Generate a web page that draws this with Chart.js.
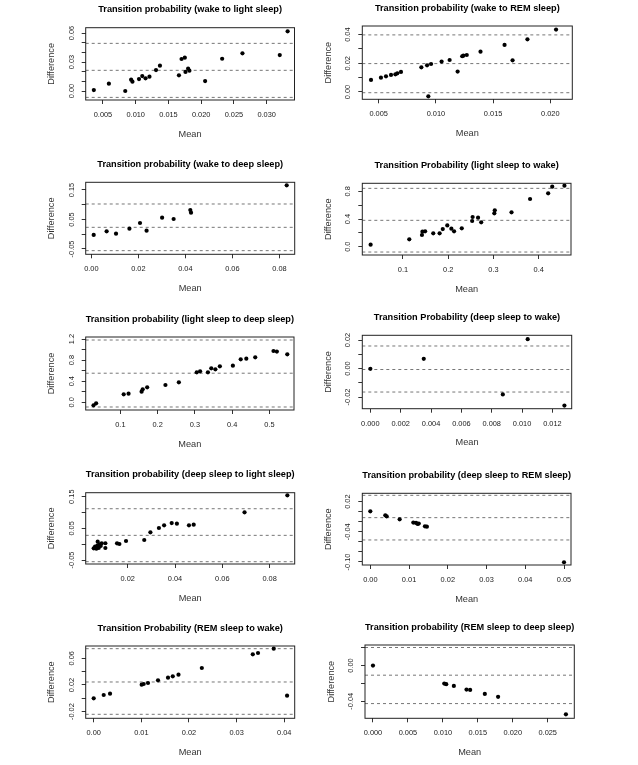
<!DOCTYPE html>
<html><head><meta charset="utf-8">
<script src="https://cdn.jsdelivr.net/npm/chart.js@4.4.1/dist/chart.umd.min.js"></script>
<style>
html,body{margin:0;padding:0;background:#fff;}
#fig{position:relative;width:638px;height:765px;overflow:hidden;background:#fff;}
#fig canvas{position:absolute;}
</style></head><body><div id="fig"></div>
<script>
// ---------- DATA ----------
// 1. wake -> light sleep
const wakeLightMean = [0.0036,0.0059,0.0084,0.0093,0.0095,0.0105,0.0110,0.0115,0.0121,0.0131,0.0137,0.0166,0.0170,0.0175,0.0176,0.0180,0.0182,0.0206,0.0232,0.0263,0.0320,0.0332];
const wakeLightDiff = [0.0010,0.0076,0.0000,0.0117,0.0097,0.0124,0.0155,0.0131,0.0148,0.0217,0.0262,0.0162,0.0331,0.0345,0.0197,0.0231,0.0210,0.0103,0.0334,0.0390,0.0372,0.0617];
const wakeLightLimits = [0.0493,0.0214,-0.0066];
const wakeLightXTicks = ['0.005','0.010','0.015','0.020','0.025','0.030'];
const wakeLightYTicks = [0,0.01,0.02,0.03,0.04,0.05,0.06];
const wakeLightYLabels = ['0.00','','','0.03','','','0.06'];

// 2. wake -> REM sleep
const wakeRemMean = [0.00433,0.0052,0.00564,0.00608,0.00646,0.00663,0.00695,0.00873,0.00923,0.00958,0.00934,0.0105,0.0112,0.0119,0.0123,0.0124,0.0127,0.0139,0.0160,0.0167,0.0180,0.0205];
const wakeRemDiff = [0.0084,0.0100,0.0109,0.0119,0.0123,0.0130,0.0140,0.0172,0.0186,0.0195,-0.0030,0.0212,0.0223,0.0142,0.0249,0.0253,0.0258,0.0281,0.0328,0.0221,0.0367,0.0435];
const wakeRemLimits = [0.0398,0.0198,-0.0005];
const wakeRemXTicks = ['0.005','0.010','0.015','0.020'];
const wakeRemYTicks = [0,0.01,0.02,0.03,0.04];
const wakeRemYLabels = ['0.00','','0.02','','0.04'];

// 3. wake -> deep sleep
const wakeDeepMean = [0.0010,0.0065,0.0105,0.0162,0.0207,0.0235,0.0301,0.0350,0.0421,0.0424,0.0831];
const wakeDeepDiff = [-0.0025,0.0099,0.0020,0.0189,0.0381,0.0121,0.0562,0.0517,0.0822,0.0732,0.1658];
const wakeDeepLimits = [0.1025,0.0234,-0.0556];
const wakeDeepXTicks = ['0.00','0.02','0.04','0.06','0.08'];
const wakeDeepYTicks = [-0.05,0,0.05,0.10,0.15];
const wakeDeepYLabels = ['-0.05','','0.05','','0.15'];

// 4. light sleep -> wake
const lightWakeMean = [0.0285,0.114,0.142,0.143,0.149,0.167,0.181,0.188,0.198,0.207,0.213,0.230,0.253,0.254,0.266,0.273,0.302,0.303,0.340,0.381,0.421,0.430,0.457];
const lightWakeDiff = [0.029,0.106,0.169,0.217,0.222,0.193,0.193,0.255,0.308,0.260,0.222,0.265,0.371,0.429,0.419,0.352,0.482,0.525,0.496,0.689,0.771,0.867,0.882];
const lightWakeLimits = [0.843,0.381,-0.077];
const lightWakeXTicks = ['0.1','0.2','0.3','0.4'];
const lightWakeYTicks = [0,0.2,0.4,0.6,0.8];
const lightWakeYLabels = ['0.0','','0.4','','0.8'];

// 5. light sleep -> deep sleep
const lightDeepMean = [0.028,0.035,0.109,0.122,0.157,0.160,0.172,0.221,0.257,0.305,0.314,0.335,0.344,0.355,0.367,0.402,0.423,0.438,0.462,0.511,0.520,0.548];
const lightDeepDiff = [-0.057,-0.019,0.152,0.164,0.202,0.246,0.284,0.329,0.379,0.569,0.588,0.569,0.645,0.626,0.682,0.695,0.815,0.828,0.853,0.973,0.961,0.910];
const lightDeepLimits = [1.181,0.552,-0.088];
const lightDeepXTicks = ['0.1','0.2','0.3','0.4','0.5'];
const lightDeepYTicks = [0,0.2,0.4,0.6,0.8,1.0,1.2];
const lightDeepYLabels = ['0.0','','0.4','','0.8','','1.2'];

// 6. deep sleep -> wake
const deepWakeMean = [0.0,0.00352,0.00873,0.01037,0.01279];
const deepWakeDiff = [-0.0002,0.0068,-0.0182,0.0206,-0.0260];
const deepWakeLimits = [0.0158,-0.0007,-0.0165];
const deepWakeXTicks = ['0.000','0.002','0.004','0.006','0.008','0.010','0.012'];
const deepWakeYTicks = [-0.02,-0.01,0,0.01,0.02];
const deepWakeYLabels = ['-0.02','','0.00','','0.02'];

// 7. deep sleep -> light sleep
const deepLightMean = [0.00563,0.0062,0.00676,0.00718,0.00732,0.00775,0.00803,0.00859,0.00901,0.01056,0.01056,0.0155,0.0165,0.0193,0.0270,0.0296,0.0332,0.0354,0.0386,0.0408,0.0459,0.0479,0.0694,0.0875];
const deepLightDiff = [-0.0132,-0.0079,-0.0142,-0.0047,0.0079,-0.0121,-0.0005,-0.0058,0.0026,0.0030,-0.0121,0.0026,0.0005,0.0100,0.0132,0.0374,0.0511,0.0595,0.0668,0.0647,0.0595,0.0616,0.1005,0.1542];
const deepLightLimits = [0.112,0.0279,-0.0553];
const deepLightXTicks = ['0.02','0.04','0.06','0.08'];
const deepLightYTicks = [-0.05,0,0.05,0.10,0.15];
const deepLightYLabels = ['-0.05','','0.05','','0.15'];

// 8. deep sleep -> REM sleep
const deepRemMean = [0.0,0.00387,0.00422,0.00757,0.0111,0.0118,0.0122,0.0125,0.0141,0.0146,0.0500];
const deepRemDiff = [0.0008,-0.0072,-0.0091,-0.0151,-0.0217,-0.0224,-0.0244,-0.0237,-0.0290,-0.0297,-0.1005];
const deepRemLimits = [0.0326,-0.0118,-0.0562];
const deepRemXTicks = ['0.00','0.01','0.02','0.03','0.04','0.05'];
const deepRemYTicks = [-0.10,-0.08,-0.06,-0.04,-0.02,0,0.02];
const deepRemYLabels = ['-0.10','','','-0.04','','','0.02'];

// 9. REM sleep -> wake
const remWakeMean = [0.0,0.0021,0.00343,0.01007,0.0105,0.0114,0.0135,0.0156,0.0166,0.0178,0.0227,0.0334,0.0345,0.0378,0.0406];
const remWakeDiff = [0.000,0.005,0.007,0.0205,0.0215,0.023,0.027,0.031,0.033,0.0355,0.0455,0.066,0.068,0.0745,0.004];
const remWakeLimits = [0.0745,0.0245,-0.024];
const remWakeXTicks = ['0.00','0.01','0.02','0.03','0.04'];
const remWakeYTicks = [-0.02,0,0.02,0.04,0.06];
const remWakeYLabels = ['-0.02','','0.02','','0.06'];

// 10. REM sleep -> deep sleep
const remDeepMean = [0.0,0.0102,0.01048,0.01157,0.01338,0.0139,0.0160,0.0179,0.0276];
const remDeepDiff = [0.0,-0.0202,-0.0209,-0.0228,-0.0269,-0.0273,-0.0318,-0.0351,-0.0546];
const remDeepLimits = [0.0202,-0.0108,-0.0426];
const remDeepXTicks = ['0.000','0.005','0.010','0.015','0.020','0.025'];
const remDeepYTicks = [-0.04,-0.02,0,0.02];
const remDeepYLabels = ['-0.04','','0.00',''];

const titles = [
  'Transition probability (wake to light sleep)',
  'Transition probability (wake to REM sleep)',
  'Transition probability (wake to deep sleep)',
  'Transition Probability (light sleep to wake)',
  'Transition probability (light sleep to deep sleep)',
  'Transition Probability (deep sleep to wake)',
  'Transition probability (deep sleep to light sleep)',
  'Transition probability (deep sleep to REM sleep)',
  'Transition Probability (REM sleep to wake)',
  'Transition probability (REM sleep to deep sleep)'
];

// axis ranges [min, max]
const xRanges = [[0.00236,0.03425],[0.00357,0.02192],[-0.0024,0.0865],[0.0101,0.4715],[0.007,0.566],
                 [-0.00053,0.01327],[0.00225,0.0906],[-0.00207,0.0518],[-0.00168,0.0422],[-0.00114,0.0288]];
const yRanges = [[-0.0093,0.0655],[-0.0051,0.046],[-0.068,0.176],[-0.120,0.916],[-0.145,1.238],
                 [-0.0282,0.0233],[-0.0626,0.1626],[-0.106,0.0366],[-0.030,0.0785],[-0.0591,0.023]];

const panels = [
  {mean:wakeLightMean, diff:wakeLightDiff, limits:wakeLightLimits, xTicks:wakeLightXTicks, yTicks:wakeLightYTicks, yLabels:wakeLightYLabels},
  {mean:wakeRemMean, diff:wakeRemDiff, limits:wakeRemLimits, xTicks:wakeRemXTicks, yTicks:wakeRemYTicks, yLabels:wakeRemYLabels},
  {mean:wakeDeepMean, diff:wakeDeepDiff, limits:wakeDeepLimits, xTicks:wakeDeepXTicks, yTicks:wakeDeepYTicks, yLabels:wakeDeepYLabels},
  {mean:lightWakeMean, diff:lightWakeDiff, limits:lightWakeLimits, xTicks:lightWakeXTicks, yTicks:lightWakeYTicks, yLabels:lightWakeYLabels},
  {mean:lightDeepMean, diff:lightDeepDiff, limits:lightDeepLimits, xTicks:lightDeepXTicks, yTicks:lightDeepYTicks, yLabels:lightDeepYLabels},
  {mean:deepWakeMean, diff:deepWakeDiff, limits:deepWakeLimits, xTicks:deepWakeXTicks, yTicks:deepWakeYTicks, yLabels:deepWakeYLabels},
  {mean:deepLightMean, diff:deepLightDiff, limits:deepLightLimits, xTicks:deepLightXTicks, yTicks:deepLightYTicks, yLabels:deepLightYLabels},
  {mean:deepRemMean, diff:deepRemDiff, limits:deepRemLimits, xTicks:deepRemXTicks, yTicks:deepRemYTicks, yLabels:deepRemYLabels},
  {mean:remWakeMean, diff:remWakeDiff, limits:remWakeLimits, xTicks:remWakeXTicks, yTicks:remWakeYTicks, yLabels:remWakeYLabels},
  {mean:remDeepMean, diff:remDeepDiff, limits:remDeepLimits, xTicks:remDeepXTicks, yTicks:remDeepYTicks, yLabels:remDeepYLabels}
];

// ---------- LAYOUT ----------
const cols = [{x:0, w:310}, {x:310, w:328}];
const rowTops = [0, 153, 306, 459, 612];
const ROW_H = 153;
// plot box in page px: [left, top, right, bottom]
const boxes = [
  [85.7,27.7,294.5,100],[362.3,26,572.3,99.3],
  [85.7,182.3,294.7,254.3],[362.3,183.3,571,255],
  [85.7,337,294,410],[362.3,335.3,571.7,408.7],
  [85.7,492.7,294.7,564],[362.3,493.3,571,565],
  [85.7,646,294.7,718.3],[365,645,574.3,718.3]
];
const FONT = "'Liberation Sans', Arial, Helvetica, sans-serif";
const Y_AXIS_W = 42, X_AXIS_H = 42, TICK_LEN = 4;
const TICK_FS = 7.4, LABEL_FS = 9.2, TITLE_FS = 9.2, TITLE_GAP = 12.5;
const TITLE_H = TITLE_FS * 1.2 + TITLE_GAP;

const mctx = document.createElement('canvas').getContext('2d');
function widest(labels) {
  mctx.font = 'normal ' + TICK_FS + 'px ' + FONT;
  return Math.max(0, ...labels.map(l => mctx.measureText(l).width));
}

const boxPlugin = {
  id: 'plotBox',
  afterDatasetsDraw(chart) {
    const {ctx, chartArea: a} = chart;
    ctx.save();
    ctx.strokeStyle = '#222';
    ctx.lineWidth = 1;
    ctx.strokeRect(a.left, a.top, a.right - a.left, a.bottom - a.top);
    ctx.restore();
  }
};

const fig = document.getElementById('fig');
panels.forEach((p, i) => {
  const col = cols[i % 2];
  const top = rowTops[Math.floor(i / 2)];
  const b = boxes[i];
  const xr = xRanges[i], yr = yRanges[i];
  const cv = document.createElement('canvas');
  cv.width = col.w; cv.height = ROW_H;
  cv.style.left = col.x + 'px'; cv.style.top = top + 'px';
  cv.style.width = col.w + 'px'; cv.style.height = ROW_H + 'px';
  fig.appendChild(cv);
  const pad = {
    left: b[0] - col.x - Y_AXIS_W,
    right: col.x + col.w - b[2],
    top: b[1] - top - TITLE_H,
    bottom: top + ROW_H - b[3] - X_AXIS_H
  };
  const yPad = 14 - TICK_LEN - widest(p.yLabels) / 2;
  const tickFont = {family: FONT, size: TICK_FS};
  const labelFont = {family: FONT, size: LABEL_FS, lineHeight: 1.2};
  new Chart(cv, {
    type: 'scatter',
    data: {
      datasets: [
        ...p.limits.map(v => ({
          type: 'line',
          data: [{x: xr[0], y: v}, {x: xr[1], y: v}],
          borderColor: '#777', borderWidth: 1, borderDash: [3, 3],
          pointRadius: 0, fill: false, order: 2
        })),
        {
          type: 'scatter',
          data: p.mean.map((m, k) => ({x: m, y: p.diff[k]})),
          backgroundColor: '#000', borderColor: '#000', borderWidth: 0,
          pointRadius: 2.1, order: 1
        }
      ]
    },
    options: {
      responsive: false, animation: false, devicePixelRatio: 1,
      layout: {padding: pad},
      plugins: {
        legend: {display: false},
        tooltip: {enabled: false},
        title: {
          display: true, text: titles[i], fullSize: false, color: '#000',
          font: {family: FONT, size: TITLE_FS, weight: 'bold', lineHeight: 1.2},
          padding: {top: 0, bottom: TITLE_GAP}
        }
      },
      scales: {
        x: {
          type: 'linear', position: 'bottom', min: xr[0], max: xr[1], bounds: 'data',
          afterBuildTicks: s => { s.ticks = p.xTicks.map(t => ({value: parseFloat(t)})); },
          afterFit: s => { s.height = X_AXIS_H; s.paddingLeft = 0; s.paddingRight = 0; },
          ticks: {
            autoSkip: false, minRotation: 0, maxRotation: 0,
            padding: 15 - TICK_LEN - 0.6 * TICK_FS,
            font: tickFont, color: '#222',
            callback: (v, k) => p.xTicks[k]
          },
          grid: {drawOnChartArea: false, drawTicks: true, tickLength: TICK_LEN, color: '#333', lineWidth: 1},
          border: {display: false},
          title: {
            display: true, text: 'Mean', color: '#333', font: labelFont,
            padding: {top: 0, bottom: X_AXIS_H - 34 - LABEL_FS * 0.6}
          }
        },
        y: {
          type: 'linear', position: 'left', min: yr[0], max: yr[1], bounds: 'data',
          afterBuildTicks: s => { s.ticks = p.yTicks.map(t => ({value: t})); },
          afterFit: s => { s.width = Y_AXIS_W; s.paddingTop = 0; s.paddingBottom = 0; },
          ticks: {
            autoSkip: false, minRotation: 90, maxRotation: 90, crossAlign: 'center',
            padding: yPad, font: tickFont, color: '#222',
            callback: (v, k) => p.yLabels[k]
          },
          grid: {drawOnChartArea: false, drawTicks: true, tickLength: TICK_LEN, color: '#333', lineWidth: 1},
          border: {display: false},
          title: {
            display: true, text: 'Difference', color: '#333', font: labelFont,
            padding: {top: Y_AXIS_W - 34 - LABEL_FS * 0.6, bottom: 0}
          }
        }
      }
    },
    plugins: [boxPlugin]
  });
});
</script>
</body></html>
